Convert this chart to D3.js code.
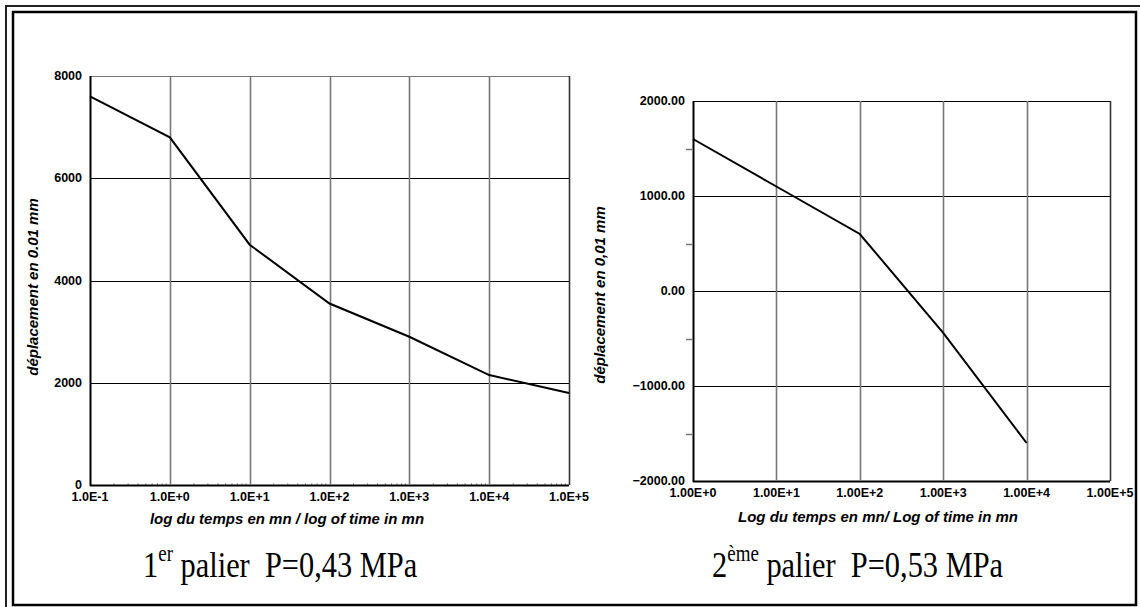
<!DOCTYPE html>
<html>
<head>
<meta charset="utf-8">
<script src="https://cdn.jsdelivr.net/npm/d3@7"></script>
<style>
  body { margin: 0; background: #fff; }
  svg { display: block; }
  .tick-lbl { font-family: "Liberation Sans", Arial, sans-serif; font-weight: bold; font-size: 12.5px; }
  .ax-title { font-family: "Liberation Sans", Arial, sans-serif; font-weight: bold; font-style: italic; font-size: 15px; }
  .caption { font-family: "Liberation Serif", "Times New Roman", serif; font-size: 32px; white-space: pre; }
</style>
</head>
<body>
<div id="chart"></div>
<script>
// 1er palier : temps (mn) / deplacement (0.01 mm)
var timesLeft = [0.1, 1, 10, 100, 1000, 10000, 100000];
var dispLeft  = [7600, 6800, 4700, 3550, 2900, 2150, 1800];
var xTicksLeft = [0.1, 1, 10, 100, 1000, 10000, 100000];
var xLabelsLeft = ["1.0E-1", "1.0E+0", "1.0E+1", "1.0E+2", "1.0E+3", "1.0E+4", "1.0E+5"];
var yTicksLeft = [0, 2000, 4000, 6000, 8000];

// 2eme palier
var timesRight = [1, 10, 100, 1000, 10000];
var dispRight  = [1600, 1100, 600, -440, -1600];
var xTicksRight = [1, 10, 100, 1000, 10000, 100000];
var xLabelsRight = ["1.00E+0", "1.00E+1", "1.00E+2", "1.00E+3", "1.00E+4", "1.00E+5"];
var yTicksRight = [-2000, -1000, 0, 1000, 2000];
var yMinorRight = [-1500, -500, 500, 1500];

var W = 1140, H = 607;
var svg = d3.select("#chart").append("svg")
    .attr("width", W)
    .attr("height", H);

svg.append("rect").attr("width", W).attr("height", H).attr("fill", "#fff");

function drawPanel(opt) {
  var x = d3.scaleLog().domain(opt.xDomain).range([opt.left, opt.right]);
  var y = d3.scaleLinear().domain(opt.yDomain).range([opt.bottom, opt.top]);
  var g = svg.append("g");

  // minor ticks on x axis
  if (opt.xMinor) {
    var minors = [];
    for (var i = 0; i < opt.xTicks.length - 1; i++) {
      for (var k = 2; k < 10; k++) minors.push(opt.xTicks[i] * k);
    }
    g.selectAll(".xminor").data(minors).enter().append("line")
      .attr("x1", d => x(d)).attr("x2", d => x(d))
      .attr("y1", opt.bottom).attr("y2", opt.bottom - 2)
      .attr("stroke", "#999").attr("stroke-width", 1);
  }

  // horizontal grid (black)
  g.selectAll(".hgrid").data(opt.yTicks).enter().append("line")
    .attr("x1", opt.left).attr("x2", opt.right)
    .attr("y1", d => Math.round(y(d)) + 0.5).attr("y2", d => Math.round(y(d)) + 0.5)
    .attr("stroke", (d, i) => i === opt.yTicks.length - 1 ? opt.topColor : "#000")
    .attr("stroke-width", (d, i) => i === 0 ? 2 : 1.2);

  // vertical grid (grey)
  g.selectAll(".vgrid").data(opt.xTicks.slice(1)).enter().append("line")
    .attr("x1", d => Math.round(x(d)) + 0.5).attr("x2", d => Math.round(x(d)) + 0.5)
    .attr("y1", opt.top).attr("y2", opt.bottom)
    .attr("stroke", (d, i, n) => i === n.length - 1 ? "#333" : "#777")
    .attr("stroke-width", 1.6);

  // y axis line
  g.append("line")
    .attr("x1", opt.left + 0.5).attr("x2", opt.left + 0.5)
    .attr("y1", opt.top).attr("y2", opt.bottom + 1)
    .attr("stroke", "#000").attr("stroke-width", 2);

  // minor y ticks outside
  if (opt.yMinor) {
    g.selectAll(".yminor").data(opt.yMinor).enter().append("line")
      .attr("x1", opt.left - 7).attr("x2", opt.left)
      .attr("y1", d => Math.round(y(d)) + 0.5).attr("y2", d => Math.round(y(d)) + 0.5)
      .attr("stroke", "#777").attr("stroke-width", 1.5);
  }

  // y tick labels
  g.selectAll(".ylbl").data(opt.yTicks).enter().append("text")
    .attr("class", "tick-lbl")
    .attr("x", opt.left - 8)
    .attr("y", d => y(d) + 4)
    .attr("text-anchor", "end")
    .text(opt.yFormat);

  // x tick labels
  g.selectAll(".xlbl").data(opt.xTicks).enter().append("text")
    .attr("class", "tick-lbl")
    .attr("x", d => x(d))
    .attr("y", opt.bottom + 16)
    .attr("text-anchor", "middle")
    .text((d, i) => opt.xLabels[i]);

  // data line
  var line = d3.line().x(d => x(d[0])).y(d => y(d[1]));
  g.append("path")
    .datum(opt.times.map((t, i) => [t, opt.disp[i]]))
    .attr("d", line)
    .attr("fill", "none")
    .attr("stroke", "#000")
    .attr("stroke-width", 2);

  // axis titles
  g.append("text")
    .attr("class", "ax-title")
    .attr("x", opt.xTitleX).attr("y", opt.xTitleY)
    .attr("text-anchor", "middle")
    .text(opt.xTitle);

  g.append("text")
    .attr("class", "ax-title")
    .attr("transform", "translate(" + opt.yTitleX + "," + opt.yTitleY + ") rotate(-90)")
    .attr("text-anchor", "middle")
    .text(opt.yTitle);

  // caption (slightly tall serif)
  var cap = g.append("text")
    .attr("class", "caption")
    .attr("transform", "translate(" + opt.capX + "," + opt.capY + ") scale(0.95,1.15)");
  cap.append("tspan").text(opt.capNum);
  cap.append("tspan").attr("font-size", "20px").attr("dy", -14).text(opt.capSup);
  cap.append("tspan").attr("dy", 14).text(opt.capRest);
}

drawPanel({
  left: 90, right: 569, top: 76, bottom: 485,
  xDomain: [0.1, 100000], yDomain: [0, 8000],
  xTicks: xTicksLeft, xLabels: xLabelsLeft, yTicks: yTicksLeft,
  yFormat: d => d, xMinor: true, topColor: "#777",
  times: timesLeft, disp: dispLeft,
  xTitle: "log du temps en mn / log of time in mn", xTitleX: 287, xTitleY: 524,
  yTitle: "déplacement en 0.01 mm", yTitleX: 38, yTitleY: 287,
  capNum: "1", capSup: "er", capRest: " palier  P=0,43 MPa", capX: 143, capY: 577
});

drawPanel({
  left: 693, right: 1110, top: 101, bottom: 481,
  xDomain: [1, 100000], yDomain: [-2000, 2000],
  xTicks: xTicksRight, xLabels: xLabelsRight, yTicks: yTicksRight, yMinor: yMinorRight,
  yFormat: d3.format(".2f"), xMinor: false, topColor: "#000",
  times: timesRight, disp: dispRight,
  xTitle: "Log du temps en mn/ Log of time in mn", xTitleX: 878, xTitleY: 522,
  yTitle: "déplacement en 0,01 mm", yTitleX: 605, yTitleY: 295,
  capNum: "2", capSup: "ème", capRest: " palier  P=0,53 MPa", capX: 712, capY: 577
});

// double frame
svg.append("rect").attr("x", 6).attr("y", 6).attr("width", 1140).attr("height", 610)
  .attr("fill", "none").attr("stroke", "#222").attr("stroke-width", 2);
svg.append("rect").attr("x", 13).attr("y", 12).attr("width", 1123).attr("height", 593)
  .attr("fill", "none").attr("stroke", "#000").attr("stroke-width", 2.5);
</script>
</body>
</html>
